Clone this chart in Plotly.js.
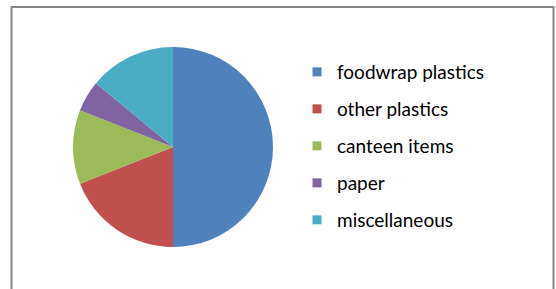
<!DOCTYPE html>
<html>
<head>
<meta charset="utf-8">
<script src="https://cdn.plot.ly/plotly-3.0.1.min.js"></script>
<style>html,body{margin:0;padding:0;background:#fff;}#chart{width:556px;height:289px;}</style>
</head>
<body>
<div id="chart"></div>
<script>
var categories = ["foodwrap plastics", "other plastics", "canteen items", "paper", "miscellaneous"];
var values = [50, 19, 12, 5, 14];
var colors = ["#4F81BD", "#C0504D", "#9BBB59", "#8064A2", "#4BACC6"];

var W = 556, H = 289;
var traces = [{
  type: "pie",
  labels: categories,
  values: values,
  sort: false,
  direction: "clockwise",
  rotation: 0,
  textinfo: "none",
  hoverinfo: "label+value",
  showlegend: false,
  marker: {colors: colors, line: {width: 0}},
  domain: {x: [73 / W, 273 / W], y: [(H - 247) / H, (H - 47) / H]}
}];
// legend entries, one per category
categories.forEach(function (c, i) {
  traces.push({
    type: "scatter",
    mode: "markers",
    x: [null], y: [null],
    name: c,
    legendgroup: "g" + i,
    marker: {symbol: "square", size: 9, color: colors[i]},
    showlegend: true,
    hoverinfo: "skip"
  });
});

var layout = {
  width: W, height: H,
  margin: {l: 0, r: 0, t: 0, b: 0},
  paper_bgcolor: "#ffffff",
  plot_bgcolor: "rgba(0,0,0,0)",
  xaxis: {visible: false},
  yaxis: {visible: false},
  showlegend: true,
  legend: {
    x: 297 / W, y: (H - 53) / H, xanchor: "left", yanchor: "top",
    font: {family: "Lato, 'Open Sans', sans-serif", size: 19, color: "#000000"},
    tracegroupgap: 9.3,
    bgcolor: "rgba(0,0,0,0)",
    borderwidth: 0
  },
  shapes: [{
    type: "rect", xref: "paper", yref: "paper",
    x0: 11.5 / W, x1: 553.5 / W, y0: -0.2, y1: (H - 7) / H,
    line: {color: "#868686", width: 2},
    fillcolor: "rgba(0,0,0,0)"
  }]
};
Plotly.newPlot("chart", traces, layout, {displayModeBar: false, staticPlot: true});
</script>
</body>
</html>
